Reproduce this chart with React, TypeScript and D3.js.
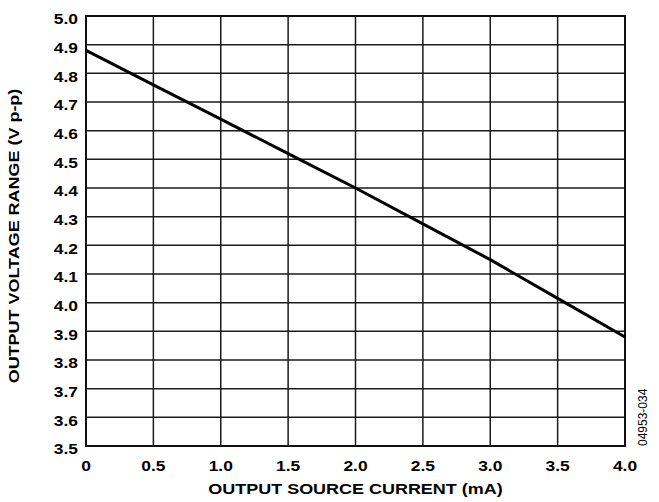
import * as d3 from 'd3';

const currents = [0, 0.5, 1.0, 1.5, 2.0, 2.5, 3.0, 3.5, 4.0];
const voltages = [4.88, 4.76, 4.64, 4.52, 4.40, 4.275, 4.15, 4.015, 3.88];
const xTicks = [0, 0.5, 1.0, 1.5, 2.0, 2.5, 3.0, 3.5, 4.0];
const yTicks = d3.range(35, 51).map(v => v / 10);

export default function App() {
  const width = 659;
  const height = 502;
  const margin = { top: 16, right: 34, bottom: 56, left: 86 };
  const innerW = width - margin.left - margin.right;
  const innerH = height - margin.top - margin.bottom;

  const x = d3.scaleLinear().domain([0, 4]).range([0, innerW]);
  const y = d3.scaleLinear().domain([3.5, 5.0]).range([innerH, 0]);

  const line = d3.line<number>()
    .x((_, i) => x(currents[i]))
    .y(d => y(d));

  const font = 'Liberation Sans, Arial, sans-serif';
  // the original lettering is a little wider than Liberation Sans
  const sx = 1.16;

  return (
    <svg width={width} height={height} style={{ position: 'absolute', left: 0, top: 0 }}
      fontFamily={font}>
      <rect width={width} height={height} fill="#fff" />
      <g transform={`translate(${margin.left},${margin.top})`}>
        {yTicks.map(t => (
          <line key={'h' + t} x1={0} x2={innerW} y1={y(t)} y2={y(t)} stroke="#1a1a1a" strokeWidth={1.5} />
        ))}
        {xTicks.map(t => (
          <line key={'v' + t} x1={x(t)} x2={x(t)} y1={0} y2={innerH} stroke="#1a1a1a" strokeWidth={1.5} />
        ))}
        <rect x={0} y={0} width={innerW} height={innerH} fill="none" stroke="#111" strokeWidth={2} />
        <path d={line(voltages) ?? ''} fill="none" stroke="#000" strokeWidth={3} />
        {yTicks.map(t => (
          <text key={'yl' + t} transform={`translate(-8,${y(t) + 8.4}) scale(${sx},1)`} textAnchor="end"
            fontSize={15} fontWeight="bold">{t.toFixed(1)}</text>
        ))}
        {xTicks.map(t => (
          <text key={'xl' + t} transform={`translate(${x(t)},${innerH + 25}) scale(${sx},1)`} textAnchor="middle"
            fontSize={15} fontWeight="bold">{t === 0 ? '0' : t.toFixed(1)}</text>
        ))}
        <text transform={`translate(${innerW / 2},${innerH + 48}) scale(${sx},1)`} textAnchor="middle"
          fontSize={15.5} fontWeight="bold">
          OUTPUT SOURCE CURRENT (mA)
        </text>
        <text transform={`translate(${-67},${innerH / 2 + 5}) rotate(-90) scale(${sx},1)`} textAnchor="middle"
          fontSize={15.5} fontWeight="bold">
          OUTPUT VOLTAGE RANGE (V p-p)
        </text>
        <text transform={`translate(${innerW + 22},${innerH}) rotate(-90)`} textAnchor="start"
          fontSize={12}>
          04953-034
        </text>
      </g>
    </svg>
  );
}
